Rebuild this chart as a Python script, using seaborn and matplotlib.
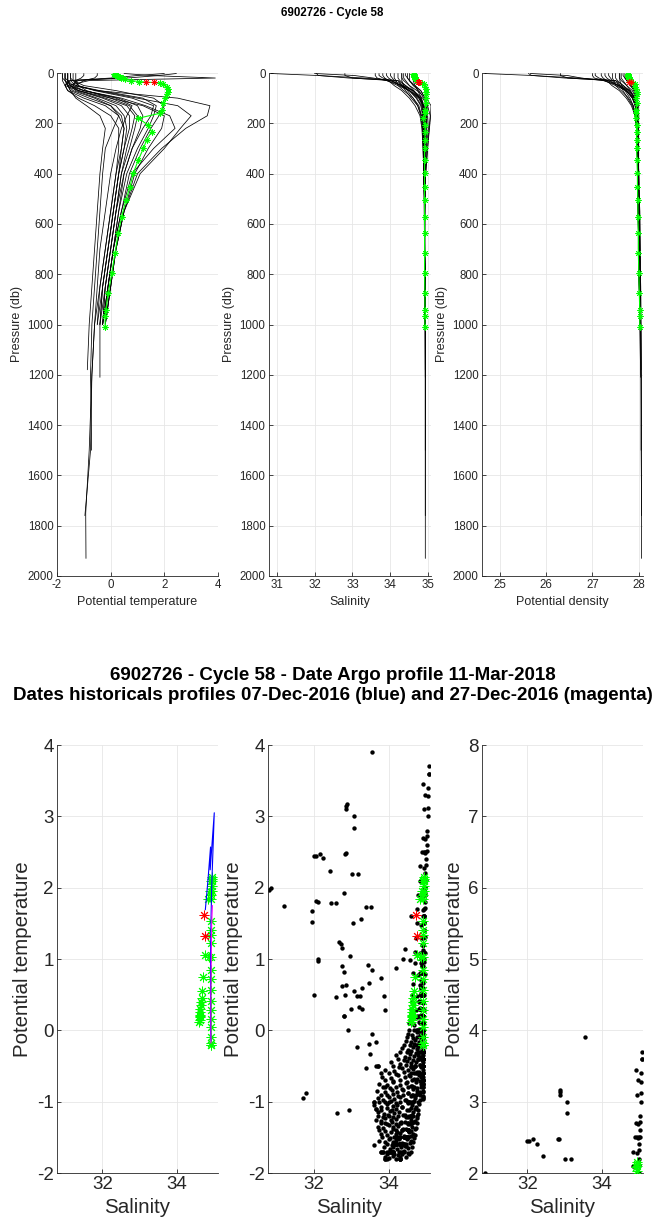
import numpy as np
import pandas as pd
import matplotlib
matplotlib.use("Agg")
import matplotlib.pyplot as plt
import seaborn as sns

# ---------------- data ----------------
LEVELS = [2, 10, 20, 30, 50, 70, 100, 130, 170, 220, 300, 400, 550, 700, 850, 1000]

HIST_T = [
    [-1.6, -1.6, -1.6, -1.6, -1.5, -1.2, -0.2, 0.6, 0.9, 0.8, 0.6, 0.4, 0.2, 0.0, -0.2, -0.3],
    [-1.7, -1.7, -1.7, -1.7, -1.6, -1.0, 0.3, 1.0, 1.2, 1.1, 0.8, 0.5, 0.3, 0.1, -0.1, -0.3],
    [0.2, 0.2, 0.3, -1.2, -1.5, -1.3, -0.5, 0.2, 0.5, 0.6, 0.5, 0.3, 0.1, -0.1, -0.3, -0.4],
    [0.5, 1.5, 3.9, -0.8, -1.6, -1.5, -0.8, 0.0, 0.4, 0.5, 0.4, 0.2, 0.0, -0.2, -0.4, -0.5],
    [-1.5, -1.5, -1.5, -1.4, -1.0, 0.2, 1.6, 2.0, 1.8, 1.5, 1.1, 0.7, 0.4, 0.1, -0.1, -0.2],
    [-1.8, -1.8, -1.8, -1.8, -1.7, -1.6, -1.2, -0.6, 0.0, 0.3, 0.3, 0.2, 0.0, -0.2, -0.4, -0.6],
    [-0.5, -0.5, -0.6, -1.0, -1.3, -0.5, 1.0, 2.5, 3.0, 2.6, 2.0, 1.1, 0.5, 0.2, 0.0, -0.2],
    [-1.4, -1.4, -1.4, -1.4, -1.2, -0.6, 0.8, 1.6, 1.5, 1.2, 0.8, 0.5, 0.2, 0.0, -0.2, -0.4],
    [-1.7, -1.7, -1.7, -1.6, -1.6, -1.4, -0.6, 0.0, 0.3, 0.1, -0.2, -0.3, -0.4, -0.5, -0.6, -0.7],
    [2.0, 1.0, 0.0, -1.5, -1.7, -1.2, 0.0, 1.2, 2.0, 1.9, 1.4, 0.9, 0.5, 0.2, 0.0, -0.2],
    [-1.6, -1.6, -1.6, -1.6, -1.4, -0.5, 2.5, 3.7, 3.6, 2.8, 1.9, 1.0, 0.5, 0.2, 0.0, -0.2],
    [-1.3, -1.3, -1.3, -1.3, -1.2, -0.9, 0.0, 0.7, 1.0, 0.9, 0.7, 0.4, 0.2, 0.0, -0.2, -0.3],
    [-1.8, -1.8, -1.8, -1.7, -1.5, -1.0, 0.2, 0.8, 0.6, 0.4, 0.2, 0.0, -0.2, -0.4, -0.5, -0.6],
    [2.45, 1.8, 0.6, -1.6, -1.7, -1.6, -1.0, -0.2, 0.3, 0.5, 0.4, 0.3, 0.1, -0.1, -0.3, -0.4],
    [-1.5, -1.5, -1.5, -1.5, -1.3, -0.4, 1.2, 1.7, 1.6, 1.4, 1.0, 0.6, 0.3, 0.1, -0.1, -0.3],
    [-1.7, -1.7, -1.7, -1.7, -1.6, -1.5, -1.3, -0.9, -0.4, -0.2, -0.3, -0.4, -0.5, -0.6, -0.7, -0.8],
    [-1.0, -1.0, -1.1, -1.3, -1.4, -1.0, 0.4, 1.3, 2.2, 2.4, 1.6, 0.8, 0.4, 0.1, -0.1, -0.3],
    [-1.6, -1.6, -1.6, -1.6, -1.5, -1.2, -0.3, 0.4, 0.7, 0.7, 0.5, 0.3, 0.1, -0.1, -0.3, -0.5],
]

HIST_S = [
    [34.2, 34.2, 34.2, 34.25, 34.4, 34.6, 34.78, 34.85, 34.88, 34.89, 34.89, 34.89, 34.9, 34.9, 34.9, 34.91],
    [34.0, 34.0, 34.05, 34.1, 34.35, 34.6, 34.8, 34.87, 34.9, 34.9, 34.9, 34.9, 34.9, 34.9, 34.91, 34.91],
    [32.8, 32.8, 33.0, 34.0, 34.3, 34.5, 34.7, 34.82, 34.86, 34.88, 34.89, 34.89, 34.9, 34.9, 34.91, 34.91],
    [32.0, 33.05, 33.55, 33.9, 34.3, 34.5, 34.68, 34.8, 34.85, 34.87, 34.88, 34.89, 34.9, 34.9, 34.91, 34.91],
    [34.4, 34.4, 34.45, 34.5, 34.65, 34.8, 34.92, 34.97, 34.96, 34.94, 34.92, 34.91, 34.9, 34.9, 34.91, 34.91],
    [34.3, 34.3, 34.3, 34.3, 34.35, 34.45, 34.6, 34.72, 34.8, 34.85, 34.87, 34.88, 34.89, 34.9, 34.91, 34.92],
    [33.7, 33.7, 33.8, 34.0, 34.3, 34.6, 34.85, 34.98, 35.05, 35.02, 34.98, 34.93, 34.91, 34.9, 34.91, 34.91],
    [34.5, 34.5, 34.5, 34.5, 34.6, 34.75, 34.88, 34.94, 34.94, 34.92, 34.91, 34.9, 34.9, 34.9, 34.91, 34.91],
    [34.1, 34.1, 34.1, 34.15, 34.2, 34.35, 34.6, 34.75, 34.82, 34.84, 34.86, 34.88, 34.9, 34.91, 34.92, 34.92],
    [30.85, 32.1, 32.9, 34.2, 34.4, 34.55, 34.75, 34.88, 34.96, 34.96, 34.94, 34.92, 34.91, 34.9, 34.91, 34.91],
    [34.3, 34.3, 34.3, 34.35, 34.5, 34.7, 34.95, 35.07, 35.06, 35.03, 34.98, 34.93, 34.91, 34.9, 34.91, 34.91],
    [34.6, 34.6, 34.6, 34.6, 34.65, 34.72, 34.82, 34.87, 34.89, 34.89, 34.89, 34.89, 34.9, 34.9, 34.91, 34.91],
    [33.9, 33.9, 33.95, 34.05, 34.25, 34.5, 34.75, 34.84, 34.86, 34.87, 34.88, 34.89, 34.9, 34.9, 34.91, 34.92],
    [32.05, 32.1, 33.3, 34.2, 34.3, 34.4, 34.55, 34.72, 34.82, 34.86, 34.88, 34.89, 34.9, 34.9, 34.91, 34.91],
    [34.45, 34.45, 34.45, 34.5, 34.62, 34.8, 34.92, 34.95, 34.94, 34.93, 34.91, 34.9, 34.9, 34.9, 34.91, 34.91],
    [33.8, 33.8, 33.85, 33.95, 34.1, 34.3, 34.5, 34.65, 34.78, 34.83, 34.86, 34.88, 34.9, 34.91, 34.92, 34.92],
    [33.6, 33.6, 33.65, 33.9, 34.2, 34.5, 34.8, 34.9, 34.98, 35.0, 34.95, 34.92, 34.9, 34.9, 34.91, 34.91],
    [34.35, 34.35, 34.35, 34.4, 34.5, 34.62, 34.78, 34.86, 34.88, 34.89, 34.89, 34.89, 34.9, 34.9, 34.91, 34.91],
]

HIST_D = [
    [27.50, 27.50, 27.50, 27.54, 27.66, 27.81, 27.91, 27.94, 27.95, 27.96, 27.97, 27.98, 27.99, 28.00, 28.01, 28.02],
    [27.35, 27.35, 27.39, 27.43, 27.62, 27.80, 27.91, 27.94, 27.95, 27.96, 27.97, 27.98, 27.99, 28.00, 28.01, 28.02],
    [26.31, 26.31, 26.47, 27.33, 27.58, 27.73, 27.86, 27.93, 27.95, 27.96, 27.97, 27.98, 28.00, 28.00, 28.02, 28.02],
    [25.66, 26.46, 26.76, 27.23, 27.58, 27.74, 27.86, 27.92, 27.94, 27.96, 27.97, 27.98, 28.00, 28.01, 28.02, 28.03],
    [27.66, 27.66, 27.70, 27.74, 27.84, 27.91, 27.95, 27.98, 27.98, 27.97, 27.97, 27.98, 27.98, 28.00, 28.01, 28.02],
    [27.59, 27.59, 27.59, 27.59, 27.63, 27.70, 27.81, 27.88, 27.92, 27.95, 27.96, 27.98, 27.99, 28.01, 28.02, 28.04],
    [27.06, 27.06, 27.14, 27.32, 27.57, 27.78, 27.92, 27.96, 28.00, 27.99, 27.98, 27.98, 27.99, 27.99, 28.01, 28.02],
    [27.74, 27.74, 27.74, 27.74, 27.81, 27.90, 27.95, 27.97, 27.97, 27.97, 27.98, 27.98, 27.99, 28.00, 28.02, 28.02],
    [27.43, 27.43, 27.43, 27.46, 27.50, 27.62, 27.78, 27.88, 27.92, 27.95, 27.98, 28.00, 28.02, 28.03, 28.04, 28.04],
    [24.68, 25.72, 26.40, 27.50, 27.67, 27.77, 27.88, 27.94, 27.97, 27.97, 27.98, 27.98, 27.99, 27.99, 28.01, 28.02],
    [27.58, 27.58, 27.58, 27.62, 27.74, 27.86, 27.94, 27.99, 27.98, 27.99, 27.99, 27.98, 27.99, 27.99, 28.01, 28.02],
    [27.81, 27.81, 27.81, 27.81, 27.85, 27.89, 27.94, 27.95, 27.95, 27.96, 27.96, 27.98, 27.99, 28.00, 28.02, 28.02],
    [27.27, 27.27, 27.31, 27.39, 27.54, 27.72, 27.87, 27.92, 27.94, 27.96, 27.98, 27.99, 28.01, 28.02, 28.03, 28.04],
    [25.62, 25.69, 26.70, 27.50, 27.59, 27.66, 27.76, 27.86, 27.92, 27.95, 27.97, 27.98, 28.00, 28.00, 28.02, 28.02],
    [27.70, 27.70, 27.70, 27.74, 27.83, 27.94, 27.97, 27.97, 27.97, 27.97, 27.97, 27.98, 27.99, 28.00, 28.01, 28.02],
    [27.19, 27.19, 27.23, 27.31, 27.42, 27.58, 27.73, 27.84, 27.92, 27.95, 27.98, 28.00, 28.02, 28.03, 28.04, 28.05],
    [27.00, 27.00, 27.04, 27.25, 27.50, 27.72, 27.90, 27.95, 27.98, 27.98, 27.98, 27.98, 27.98, 28.00, 28.01, 28.02],
    [27.62, 27.62, 27.62, 27.66, 27.74, 27.82, 27.92, 27.95, 27.96, 27.96, 27.97, 27.98, 28.00, 28.00, 28.02, 28.03],
]

# deeper continuation of a few historical profiles
DEEP_PROF = [2, 5, 5, 5, 5, 8, 8, 12, 12, 12, 15]
DEEP_P = [1210, 1200, 1500, 1750, 1930, 1200, 1500, 1200, 1500, 1760, 1180]
DEEP_T = [-0.40, -0.70, -0.80, -0.93, -0.92, -0.75, -0.71, -0.70, -0.75, -0.96, -0.87]
DEEP_S = [34.92, 34.92, 34.92, 34.92, 34.92, 34.92, 34.92, 34.92, 34.92, 34.92, 34.92]
DEEP_D = [28.04, 28.05, 28.06, 28.06, 28.06, 28.05, 28.05, 28.05, 28.05, 28.06, 28.05]

# Argo profile (green)
ARGO_P = [2, 4, 6, 8, 10, 12, 14, 16, 18, 21, 25, 30, 34, 40, 45, 54, 62, 74, 85, 101,
          121, 147, 160, 180, 207, 233, 266, 300, 346, 399, 452, 505, 571, 637, 717, 796, 876, 942, 968, 1010]
ARGO_T = [0.12, 0.15, 0.18, 0.2, 0.22, 0.25, 0.3, 0.35, 0.4, 0.45, 0.55, 0.75, 1.05, 1.84, 1.95, 2.09, 2.12, 2.15, 2.1, 2.03,
          1.96, 1.9, 1.84, 1.03, 1.4, 1.53, 1.34, 1.22, 1.03, 0.84, 0.72, 0.57, 0.41, 0.28, 0.16, 0.04, -0.09, -0.18, -0.21, -0.2]
ARGO_S = [34.60, 34.61, 34.61, 34.62, 34.62, 34.63, 34.63, 34.64, 34.65, 34.66, 34.68, 34.70, 34.74, 34.84, 34.88, 34.91, 34.93, 34.94, 34.94, 34.93,
          34.93, 34.92, 34.92, 34.86, 34.91, 34.91, 34.91, 34.90, 34.90, 34.90, 34.90, 34.90, 34.90, 34.90, 34.90, 34.90, 34.91, 34.91, 34.91, 34.91]
ARGO_D = [27.76, 27.76, 27.76, 27.77, 27.77, 27.77, 27.77, 27.78, 27.78, 27.79, 27.80, 27.81, 27.83, 27.88, 27.91, 27.92, 27.94, 27.95, 27.95, 27.94,
          27.95, 27.94, 27.94, 27.93, 27.95, 27.95, 27.95, 27.95, 27.96, 27.97, 27.97, 27.98, 27.98, 27.99, 27.99, 28.00, 28.01, 28.02, 28.02, 28.02]

# flagged Argo points (red)
RED_P = [36, 37]
RED_T = [1.32, 1.62]
RED_S = [34.75, 34.72]
RED_D = [27.83, 27.79]

# historical profiles shown in theta-S (blue: 07-Dec-2016, magenta: 27-Dec-2016)
BLUE_S = [34.76, 34.83, 34.90, 34.89, 35.00, 34.93, 34.91, 34.90, 34.90, 34.90, 34.91]
BLUE_T = [1.69, 2.10, 2.57, 2.25, 3.05, 2.00, 1.50, 1.00, 0.50, 0.00, -0.15]
MAGENTA_S = [34.95, 34.93, 34.92, 34.91, 34.91, 34.91]
MAGENTA_T = [1.75, 1.50, 1.00, 0.50, 0.00, -0.18]

# additional historical theta-S observations (black dots)
CLOUD_S = [
    33.90, 34.00, 34.10, 34.20, 34.25, 34.30, 34.35, 34.45, 34.55,
    33.85, 33.95, 34.05, 34.15, 34.28, 34.40, 34.50, 34.60,
    33.88, 34.02, 34.12, 34.22, 34.32, 34.42, 34.52, 34.62,
    33.75, 33.90, 34.00, 34.10, 34.20, 34.35, 34.48, 34.58, 34.66,
    33.80, 33.95, 34.05, 34.18, 34.30, 34.40, 34.55, 34.65, 34.70,
    33.70, 33.85, 34.00, 34.12, 34.25, 34.38, 34.50, 34.62, 34.72,
    33.65, 33.78, 33.90, 34.05, 34.20, 34.32, 34.45, 34.58, 34.70, 34.76,
    33.72, 33.88, 34.02, 34.15, 34.28, 34.42, 34.55, 34.66, 34.78,
    33.60, 33.80, 33.95, 34.10, 34.22, 34.35, 34.50, 34.62, 34.72, 34.80,
    33.70, 33.85, 34.00, 34.15, 34.30, 34.45, 34.58, 34.70, 34.82,
    33.68, 33.90, 34.08, 34.22, 34.38, 34.52, 34.65, 34.76, 34.84,
    33.75, 33.95, 34.12, 34.30, 34.45, 34.60, 34.72, 34.85,
    33.82, 34.05, 34.25, 34.42, 34.56, 34.68, 34.80, 34.87,
    33.90, 34.15, 34.35, 34.50, 34.64, 34.76, 34.86,
    34.05, 34.30, 34.48, 34.60, 34.72, 34.82, 34.88,
    34.20, 34.42, 34.56, 34.68, 34.78, 34.86,
    34.35, 34.52, 34.64, 34.74, 34.84, 34.90,
    34.45, 34.60, 34.70, 34.80, 34.88,
    34.50, 34.62, 34.74, 34.84, 34.92,
    34.55, 34.68, 34.80, 34.90,
    34.58, 34.72, 34.84, 34.93,
    34.62, 34.75, 34.87, 34.94,
    34.65, 34.78, 34.90, 34.96,
    34.70, 34.82, 34.92, 34.97,
    34.74, 34.86, 34.95,
    34.78, 34.90, 34.98,
    34.84, 34.93, 35.00,
    34.90, 34.96, 35.02,
    34.95, 35.04,
    34.92, 35.05,
    35.06,
    34.925, 34.925, 34.925, 34.925, 34.925, 34.925, 34.925,
]
CLOUD_T = [
    -1.77, -1.79, -1.76, -1.80, -1.75, -1.78, -1.74, -1.77, -1.73,
    -1.71, -1.73, -1.70, -1.74, -1.71, -1.69, -1.72, -1.70,
    -1.64, -1.66, -1.63, -1.67, -1.64, -1.62, -1.65, -1.63,
    -1.55, -1.57, -1.53, -1.56, -1.54, -1.58, -1.52, -1.55, -1.57,
    -1.45, -1.47, -1.43, -1.46, -1.44, -1.48, -1.42, -1.45, -1.47,
    -1.35, -1.37, -1.33, -1.36, -1.34, -1.38, -1.32, -1.35, -1.37,
    -1.25, -1.27, -1.23, -1.26, -1.24, -1.28, -1.22, -1.25, -1.27, -1.23,
    -1.15, -1.17, -1.13, -1.16, -1.14, -1.18, -1.12, -1.15, -1.17,
    -1.05, -1.07, -1.03, -1.06, -1.04, -1.08, -1.02, -1.05, -1.07, -1.03,
    -0.95, -0.97, -0.93, -0.96, -0.94, -0.98, -0.92, -0.95, -0.97,
    -0.85, -0.87, -0.83, -0.86, -0.84, -0.88, -0.82, -0.85, -0.87,
    -0.75, -0.77, -0.73, -0.76, -0.74, -0.78, -0.72, -0.75,
    -0.65, -0.67, -0.63, -0.66, -0.64, -0.68, -0.62, -0.65,
    -0.55, -0.57, -0.53, -0.56, -0.54, -0.58, -0.52,
    -0.45, -0.47, -0.43, -0.46, -0.44, -0.48, -0.42,
    -0.35, -0.37, -0.33, -0.36, -0.34, -0.38,
    -0.25, -0.27, -0.23, -0.26, -0.24, -0.28,
    -0.15, -0.17, -0.13, -0.16, -0.14,
    -0.05, -0.07, -0.03, -0.06, -0.04,
    0.10, 0.08, 0.12, 0.09,
    0.30, 0.28, 0.32, 0.29,
    0.50, 0.48, 0.52, 0.49,
    0.80, 0.78, 0.82, 0.79,
    1.10, 1.08, 1.12, 1.09,
    1.50, 1.48, 1.52,
    1.90, 1.88, 1.92,
    2.30, 2.28, 2.32,
    2.70, 2.68, 2.72,
    3.10, 3.12,
    3.45, 3.40,
    3.60,
    -0.95, -0.85, -0.75, -0.65, -0.55, -0.45, -0.35,
]

CLOUD2_S = [
    33.95, 34.08, 34.27, 34.38, 34.47, 34.57,
    33.83, 34.03, 34.14, 34.26, 34.44, 34.60, 34.68,
    33.74, 33.90, 34.10, 34.23, 34.35, 34.47, 34.60, 34.71,
    33.80, 33.95, 34.08, 34.20, 34.33, 34.44, 34.56, 34.67, 34.74,
    33.70, 33.84, 33.97, 34.10, 34.25, 34.38, 34.50, 34.63, 34.75,
    33.65, 33.80, 33.95, 34.08, 34.20, 34.35, 34.48, 34.60, 34.70, 34.79,
    33.75, 33.90, 34.05, 34.18, 34.30, 34.42, 34.55, 34.67, 34.77,
    33.78, 33.95, 34.10, 34.25, 34.38, 34.50, 34.63, 34.75, 34.83,
    33.85, 34.02, 34.18, 34.35, 34.50, 34.62, 34.74, 34.86,
    33.90, 34.10, 34.30, 34.48, 34.62, 34.74, 34.84,
    34.00, 34.20, 34.40, 34.55, 34.68, 34.80, 34.88,
    34.10, 34.28, 34.45, 34.58, 34.70, 34.82,
    34.25, 34.40, 34.54, 34.66, 34.78, 34.87,
    34.30, 34.48, 34.60, 34.72, 34.82,
    34.40, 34.56, 34.68, 34.78, 34.88,
    34.48, 34.64, 34.76, 34.86,
    34.55, 34.68, 34.80, 34.90,
    34.60, 34.76, 34.88,
    34.62, 34.80, 34.90,
    34.66, 34.82, 34.92,
    34.70, 34.85, 34.94,
    34.72, 34.88, 34.96,
    34.76, 34.90, 34.97,
    34.82, 34.92, 34.99,
    34.88, 34.97, 35.02,
    34.96, 35.05,
]
CLOUD2_T = [
    -1.60, -1.61, -1.59, -1.60, -1.62, -1.58,
    -1.50, -1.51, -1.49, -1.52, -1.50, -1.48, -1.51,
    -1.40, -1.41, -1.39, -1.42, -1.40, -1.38, -1.41, -1.39,
    -1.30, -1.31, -1.29, -1.32, -1.30, -1.28, -1.31, -1.29, -1.30,
    -1.20, -1.21, -1.19, -1.22, -1.20, -1.18, -1.21, -1.19, -1.20,
    -1.10, -1.11, -1.09, -1.12, -1.10, -1.08, -1.11, -1.09, -1.10, -1.12,
    -1.00, -1.01, -0.99, -1.02, -1.00, -0.98, -1.01, -0.99, -1.00,
    -0.90, -0.91, -0.89, -0.92, -0.90, -0.88, -0.91, -0.89, -0.90,
    -0.80, -0.81, -0.79, -0.82, -0.80, -0.78, -0.81, -0.79,
    -0.70, -0.71, -0.69, -0.72, -0.70, -0.68, -0.71,
    -0.60, -0.61, -0.59, -0.62, -0.60, -0.58, -0.61,
    -0.50, -0.51, -0.49, -0.52, -0.50, -0.48,
    -0.40, -0.41, -0.39, -0.42, -0.40, -0.38,
    -0.30, -0.31, -0.29, -0.32, -0.30,
    -0.20, -0.21, -0.19, -0.22, -0.20,
    -0.10, -0.11, -0.09, -0.12,
    0.00, 0.01, -0.01, 0.02,
    0.20, 0.19, 0.21,
    0.40, 0.41, 0.39,
    0.65, 0.64, 0.66,
    0.95, 0.94, 0.96,
    1.30, 1.29, 1.31,
    1.70, 1.69, 1.71,
    2.10, 2.09, 2.11,
    2.50, 2.49, 2.51,
    3.30, 3.28,
]

OUT_S = [30.80, 31.21, 32.00, 32.16, 32.25, 32.43, 31.94, 31.96, 32.07, 32.12,
         32.45, 32.58, 32.68, 32.72, 32.76, 32.86, 32.87, 32.88, 32.82, 32.85,
         32.81, 33.07, 33.06, 33.18, 33.01, 33.25, 32.76, 32.81, 32.85, 32.76,
         32.60, 32.83, 32.97, 33.08, 33.16, 33.24, 33.20, 33.30, 33.39, 33.52,
         33.45, 33.54, 33.46, 33.79, 33.87, 33.91, 33.16, 33.47, 33.56, 33.67,
         33.49, 32.63, 32.93, 31.72, 31.80, 33.61, 34.18, 34.38, 34.43, 34.56,
         34.60, 33.40, 33.67]
OUT_T = [1.97, 1.74, 2.45, 2.47, 2.41, 2.24, 1.52, 1.67, 1.82, 0.97,
         1.79, 1.79, 1.24, 1.21, 1.16, 3.10, 3.14, 3.17, 2.47, 2.48,
         1.93, 3.00, 2.84, 2.19, 2.19, 1.56, 0.90, 0.82, 0.64, 0.62,
         0.47, 0.49, 1.04, 0.55, 0.48, 0.48, 0.33, 0.30, 1.73, 1.73,
         0.91, 0.84, 0.67, 0.74, 0.48, 0.29, -0.23, -0.19, -0.05, -0.16,
         -0.33, -1.16, -1.12, -0.95, -0.88, -1.61, 0.87, 1.00, 1.14, 0.99,
         1.60, -0.53, -0.50]

TITLE_TOP = "6902726 - Cycle 58"
TITLE_BOT1 = "6902726 - Cycle 58 - Date Argo profile 11-Mar-2018"
TITLE_BOT2 = "Dates historicals profiles 07-Dec-2016 (blue) and 27-Dec-2016 (magenta)"

# ---------------- tables ----------------
rows = []
for k in range(len(HIST_T)):
    for p, t, s, d in zip(LEVELS, HIST_T[k], HIST_S[k], HIST_D[k]):
        rows.append((k, p, t, s, d))
for k, p, t, s, d in zip(DEEP_PROF, DEEP_P, DEEP_T, DEEP_S, DEEP_D):
    rows.append((k, p, t, s, d))
hist = pd.DataFrame(rows, columns=["prof", "pres", "temp", "sal", "dens"]).sort_values(["prof", "pres"]).reset_index(drop=True)

argo = pd.DataFrame({"pres": ARGO_P, "temp": ARGO_T, "sal": ARGO_S, "dens": ARGO_D})
red = pd.DataFrame({"pres": RED_P, "temp": RED_T, "sal": RED_S, "dens": RED_D})
blue = pd.DataFrame({"sal": BLUE_S, "temp": BLUE_T})
mag = pd.DataFrame({"sal": MAGENTA_S, "temp": MAGENTA_T})
dots = pd.concat([
    hist[["sal", "temp"]],
    pd.DataFrame({"sal": CLOUD_S, "temp": CLOUD_T}),
    pd.DataFrame({"sal": CLOUD2_S, "temp": CLOUD2_T}),
    pd.DataFrame({"sal": OUT_S, "temp": OUT_T}),
], ignore_index=True)

# ---------------- style ----------------
sns.set_theme(style="whitegrid", rc={
    "axes.edgecolor": "#262626", "axes.linewidth": 0.6,
    "grid.color": "#e6e6e6", "grid.linewidth": 0.6,
    "xtick.direction": "in", "ytick.direction": "in",
    "xtick.bottom": True, "ytick.left": True,
    "xtick.major.size": 3, "ytick.major.size": 3,
    "xtick.major.width": 0.6, "ytick.major.width": 0.6,
    "xtick.color": "#262626", "ytick.color": "#262626",
    "axes.labelcolor": "#262626", "text.color": "#000000",
    "xtick.major.pad": 2.5, "ytick.major.pad": 2.5,
    "axes.unicode_minus": False,
})
plt.rcParams["font.family"] = ["Liberation Sans", "DejaVu Sans"]

GREEN = (0, 1, 0)
RED = (1, 0, 0)
AST = (8, 2, 0)

W, H = 665, 1230
fig = plt.figure(figsize=(W / 100, H / 100), dpi=100)


def axes_px(x0, x1, y0, y1):
    return fig.add_axes([x0 / W, 1 - y1 / H, (x1 - x0) / W, (y1 - y0) / H])


top_specs = [
    ((57, 218), "temp", (-2, 4), [-2, 0, 2, 4], "Potential temperature"),
    ((269, 431), "sal", (30.8, 35.07), [31, 32, 33, 34, 35], "Salinity"),
    ((482, 643), "dens", (24.62, 28.09), [25, 26, 27, 28], "Potential density"),
]
for (x0, x1), var, xl, xt, xlabel in top_specs:
    ax = axes_px(x0, x1, 73, 576)
    sns.lineplot(data=hist, x=var, y="pres", units="prof", estimator=None, sort=False,
                 orient="y", color="black", lw=0.55, ax=ax, legend=False)
    sns.lineplot(data=argo, x=var, y="pres", estimator=None, sort=False, orient="y",
                 color=GREEN, lw=0.8, ax=ax, legend=False, zorder=3)
    sns.scatterplot(data=argo, x=var, y="pres", marker=AST, s=16, color=GREEN,
                    linewidth=0.6, ax=ax, legend=False, zorder=4)
    sns.scatterplot(data=red, x=var, y="pres", marker=AST, s=16, color=RED,
                    linewidth=0.6, ax=ax, legend=False, zorder=5)
    ax.set_xlim(*xl)
    ax.set_xticks(xt)
    ax.set_ylim(2000, 0)
    ax.set_yticks(range(0, 2001, 200))
    ax.tick_params(labelsize=8.3)
    ax.set_xlabel(xlabel, fontsize=9, labelpad=3)
    ax.set_ylabel("Pressure (db)", fontsize=9, labelpad=3)
    ax.set_axisbelow(True)
    sns.despine(ax=ax)

bottom_specs = [((57, 218), (-2, 4), False), ((268, 430), (-2, 4), True), ((482, 643), (2, 8), True)]
for i, ((x0, x1), yl, show_dots) in enumerate(bottom_specs):
    ax = axes_px(x0, x1, 745, 1173)
    if show_dots:
        sns.scatterplot(data=dots, x="sal", y="temp", marker="o", s=10, color="black",
                        linewidth=0, ax=ax, legend=False, zorder=2)
    sns.scatterplot(data=argo, x="sal", y="temp", marker=AST, s=42, color=GREEN,
                    linewidth=0.7, ax=ax, legend=False, zorder=3)
    if i == 0:
        sns.lineplot(data=blue, x="sal", y="temp", estimator=None, sort=False,
                     color="blue", lw=0.8, ax=ax, legend=False, zorder=4)
        sns.lineplot(data=mag, x="sal", y="temp", estimator=None, sort=False,
                     color="magenta", lw=0.8, ax=ax, legend=False, zorder=4)
    sns.scatterplot(data=red, x="sal", y="temp", marker=AST, s=42, color=RED,
                    linewidth=0.7, ax=ax, legend=False, zorder=5)
    ax.set_xlim(30.78, 35.1)
    ax.set_xticks([32, 34])
    ax.set_ylim(*yl)
    ax.set_yticks(range(yl[0], yl[1] + 1))
    ax.tick_params(labelsize=13.5)
    ax.set_xlabel("Salinity", fontsize=14.8, labelpad=3)
    ax.set_ylabel("Potential temperature", fontsize=14.8, labelpad=3)
    ax.set_axisbelow(True)
    sns.despine(ax=ax)

fig.text(0.5, 1 - 13 / H, TITLE_TOP, ha="center", va="center", fontsize=8.3, fontweight="bold")
fig.text(0.5, 1 - 675 / H, TITLE_BOT1, ha="center", va="center", fontsize=13.5, fontweight="bold")
fig.text(0.5, 1 - 695 / H, TITLE_BOT2, ha="center", va="center", fontsize=13.5, fontweight="bold")

fig.savefig("out.png", dpi=100)
